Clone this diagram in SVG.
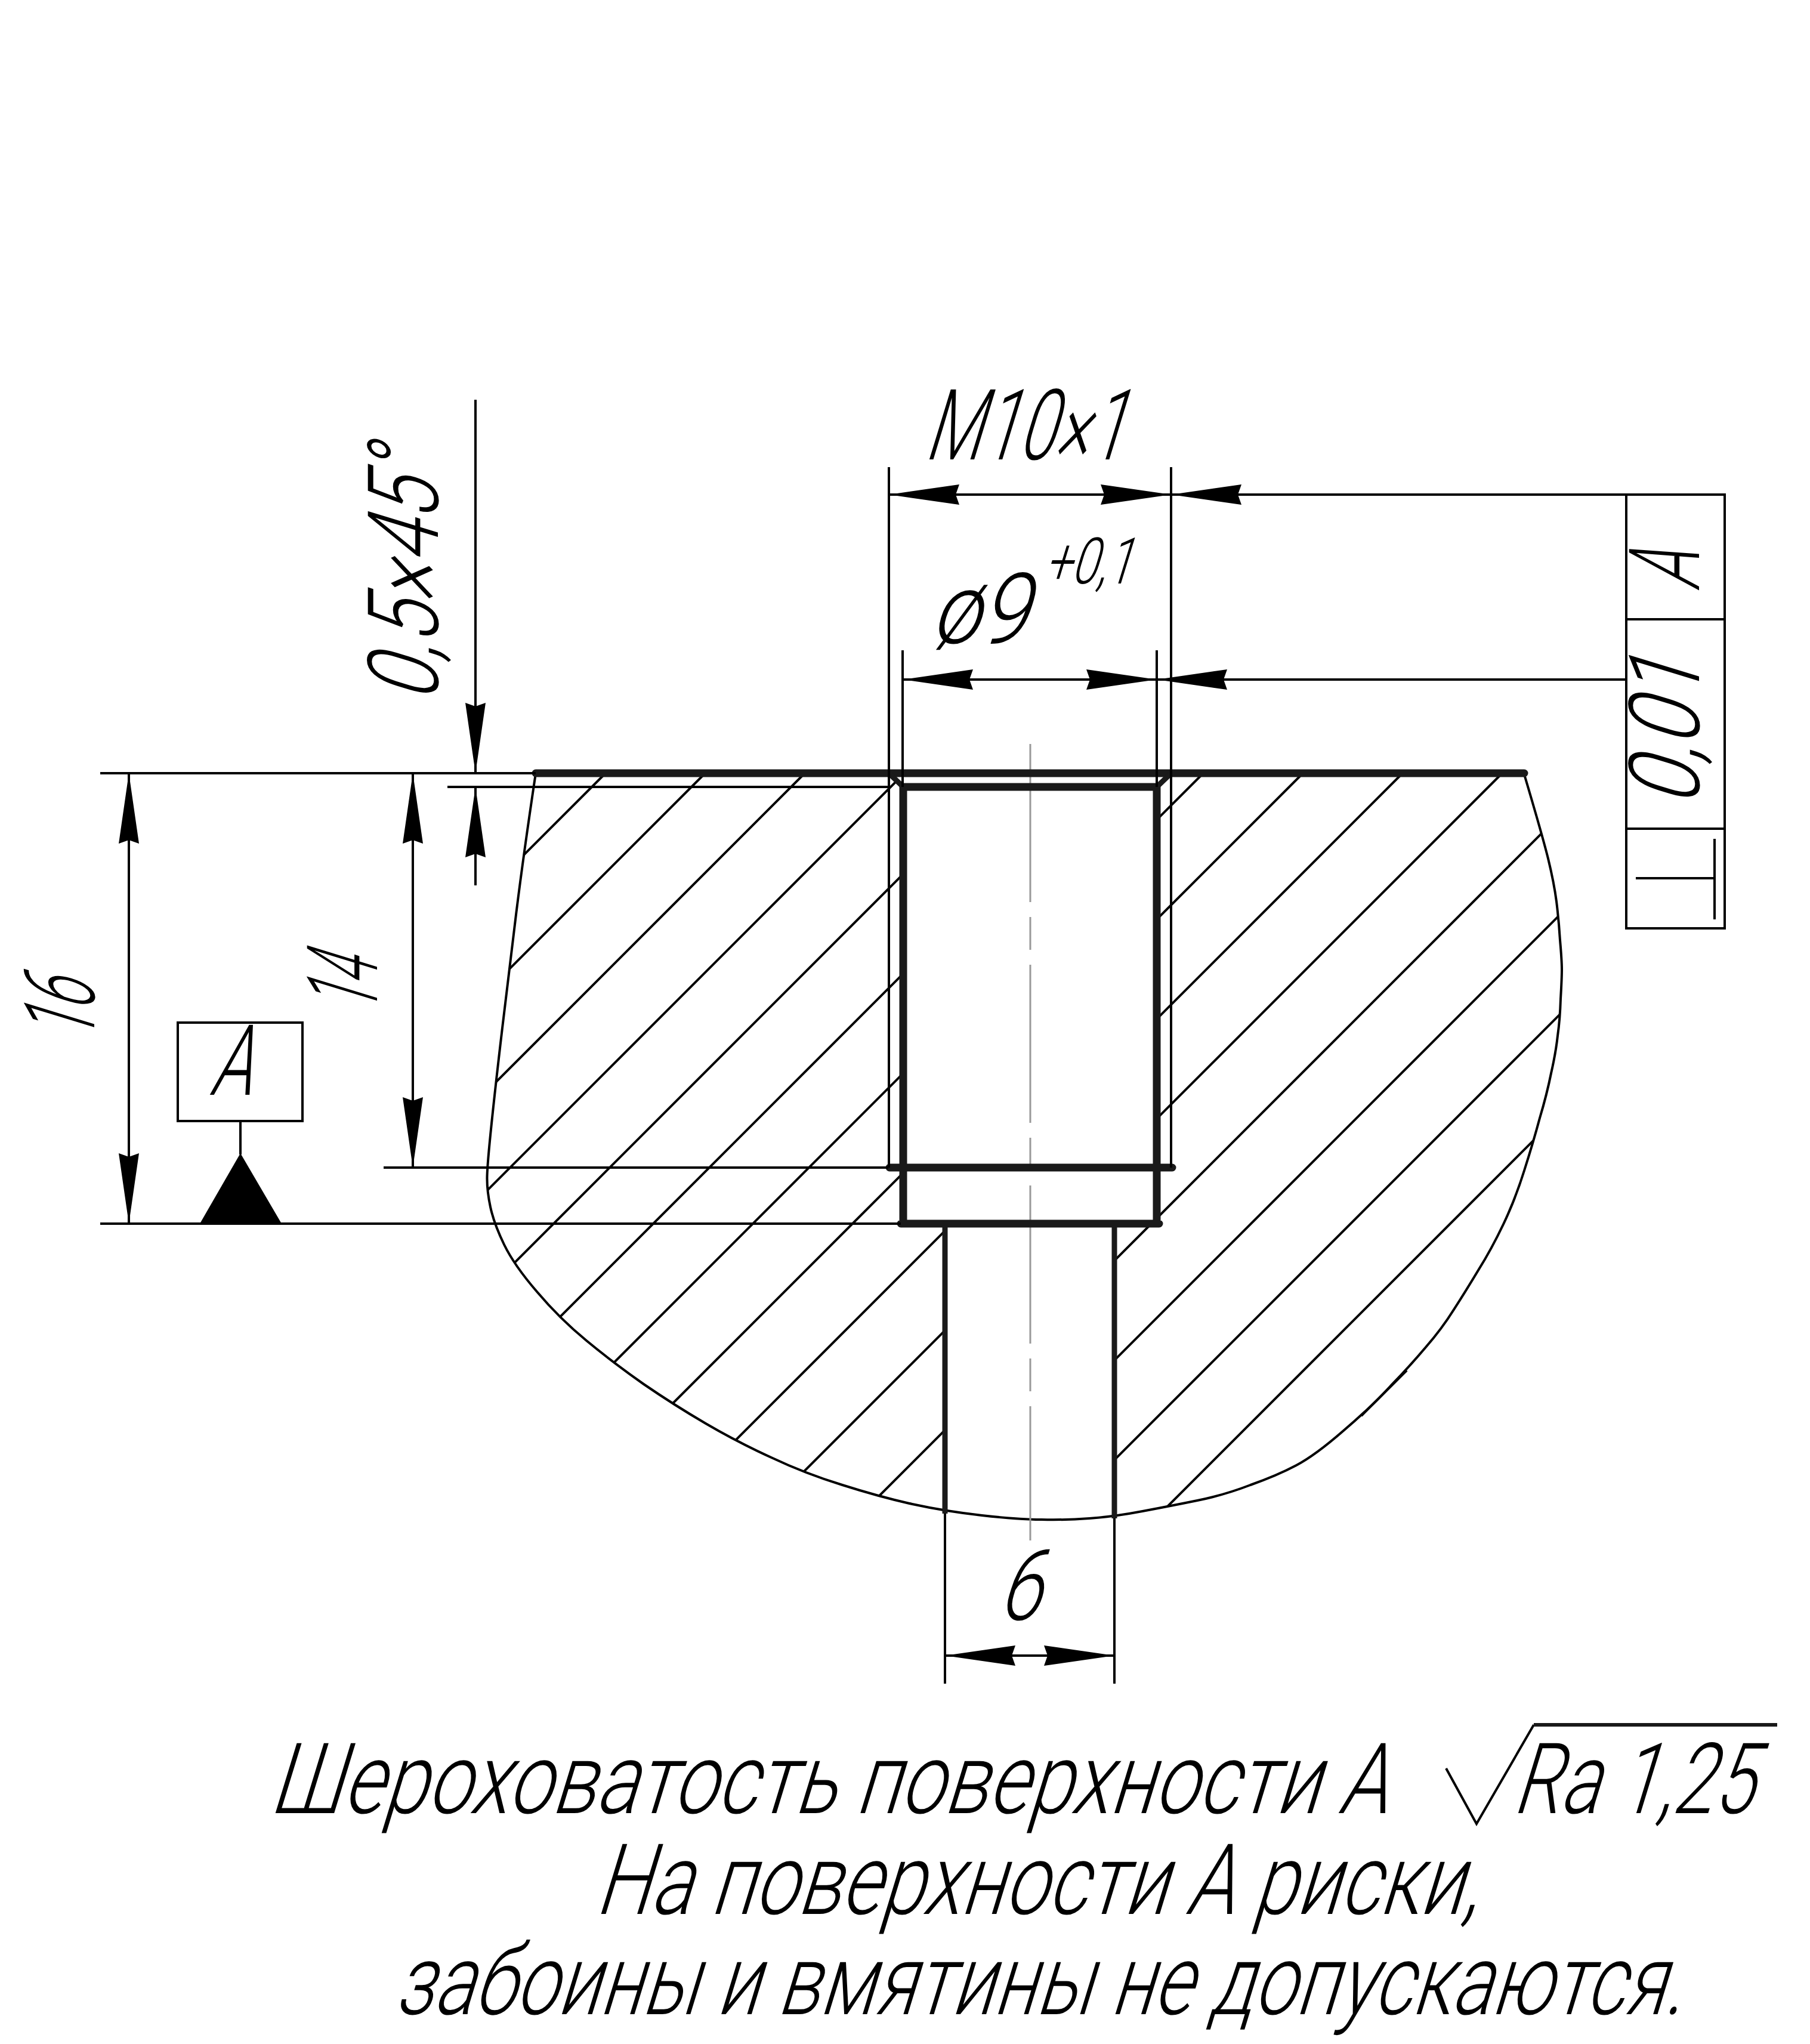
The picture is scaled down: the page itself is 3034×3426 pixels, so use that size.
<svg xmlns="http://www.w3.org/2000/svg" width="3034" height="3426" viewBox="0 0 3034 3426">
<style>
.thin{fill:none;stroke:#000;stroke-width:4}
.thick{fill:none;stroke:#1a1a1a;stroke-width:13;stroke-linecap:round}
.med{fill:none;stroke:#1a1a1a;stroke-width:9}
.t{font-family:"Roboto","Liberation Sans",sans-serif;font-weight:300;font-size:165px;fill:#000}
.dim{marker-end:url(#ah)}
.both{marker-start:url(#ah);marker-end:url(#ah)}
</style>
<defs>
<marker id="ah" markerUnits="userSpaceOnUse" markerWidth="124" markerHeight="40" refX="120" refY="20" orient="auto-start-reverse">
<path d="M120 20L2 3L8 20L2 37Z" fill="#000"/>
</marker>
<clipPath id="mat">
<path d="M898 1296H1490L1514 1319V2051H1584V2533L1529 2521Q1475 2509 1412 2489Q1350 2470 1293 2443Q1236 2417 1183 2386Q1130 2355 1079 2320Q1029 2285 983 2247Q938 2210 900 2165Q862 2121 845 2086Q828 2051 822 2023Q816 1995 816.5 1972Q817 1950 824 1883Q831 1816 842 1723Q853 1630 865 1533Q877 1436 898 1296Z"/>
<path d="M1963 1296H2555Q2585 1399 2595 1439Q2605 1480 2609 1511Q2613 1543 2615 1576Q2618 1610 2618 1625Q2618 1640 2616 1674Q2615 1708 2611 1736Q2608 1764 2600 1799Q2593 1834 2581 1874Q2570 1915 2555 1962Q2540 2010 2520 2052Q2500 2094 2478 2129Q2457 2164 2437 2195Q2417 2227 2390 2258Q2363 2290 2331 2323Q2300 2357 2252 2398Q2205 2439 2173 2456Q2141 2473 2096 2489Q2052 2506 2007 2515Q1963 2524 1915 2533L1868 2542V2051H1939V1319Z"/>
</clipPath>
</defs>
<g id="part">
<path id="hatch" class="thin" clip-path="url(#mat)" d="M1015 1296L-289 2600M1182 1296L-122 2600M1349 1296L45 2600M1516 1296L212 2600M1683 1296L379 2600M1850 1296L546 2600M2017 1296L713 2600M2184 1296L880 2600M2351 1296L1047 2600M2518 1296L1214 2600M2685 1296L1381 2600M2852 1296L1548 2600M3019 1296L1715 2600M3186 1296L1882 2600"/>
<path id="outline" class="thin" d="M898 1296Q877 1436 865 1533Q853 1630 842 1723Q831 1816 824 1883Q817 1950 816.5 1972Q816 1995 822 2023Q828 2051 845 2086Q862 2121 900 2165Q938 2210 983 2247Q1029 2285 1079 2320Q1130 2355 1183 2386Q1236 2417 1293 2443Q1350 2470 1412 2489Q1475 2509 1529 2521Q1584 2533 1646 2540Q1708 2547 1746 2547Q1784 2548 1826 2545Q1868 2542 1915 2533Q1963 2524 2007 2515Q2052 2506 2096 2489Q2141 2473 2173 2456Q2205 2439 2252 2398Q2300 2357 2331 2323Q2363 2290 2390 2258Q2417 2227 2437 2195Q2457 2164 2478 2129Q2500 2094 2520 2052Q2540 2010 2555 1962Q2570 1915 2581 1874Q2593 1834 2600 1799Q2608 1764 2611 1736Q2615 1708 2616 1674Q2618 1640 2618 1625Q2618 1610 2615 1576Q2613 1543 2609 1511Q2605 1480 2595 1439Q2585 1399 2555 1298"/>
<path class="thin" d="M2282 2373L2358 2297"/>
</g>
<g id="centerline"><path d="M1727 1247V2582" fill="none" stroke="#999" stroke-width="3" stroke-dasharray="265 25 55 25"/></g>
<g id="hole">
<path class="thick" d="M898 1296H2555"/>
<path class="thick" d="M1514 1319H1939M1514 1319V2051M1939 1319V2051M1510 2051H1943M1491 1957H1965"/>
<path class="med" d="M1490 1296L1514 1319M1963 1296L1939 1319M1584 2051V2537M1868 2051V2545"/>
</g>
<g id="connectors" class="thin">
<path class="thin" d="M1490 783V1957M1963 783V1957M1513 1090V1319M1939 1090V1319M1584 2537V2822M1868 2545V2822"/>
<path class="thin" d="M168 1296H898M168 2051H1510M643 1957H1489M750 1319H1494"/>
<path class="thin both" d="M1490 829H1963"/>
<path class="thin dim" d="M2726 829H1963"/>
<path class="thin both" d="M1513 1139H1939"/>
<path class="thin dim" d="M2726 1139H1939"/>
<path class="thin both" d="M216 1296V2051"/>
<path class="thin both" d="M692 1296V1957"/>
<path class="thin dim" d="M797 670V1296"/>
<path class="thin dim" d="M797 1484V1319"/>
<path class="thin both" d="M1584 2775H1868"/>
</g>
<g id="frame">
<rect class="thin" x="2726" y="829" width="165" height="727"/>
<path class="thin" d="M2726 1038H2891M2726 1389H2891M2742 1472H2874M2874 1406V1541"/>
<text class="t" transform="translate(2848 991) rotate(-90) skewX(-17)" textLength="64" lengthAdjust="spacingAndGlyphs">A</text>
<text class="t" transform="translate(2848 1353) rotate(-90) skewX(-17)" textLength="248" lengthAdjust="spacingAndGlyphs">0,01</text>
</g>
<g id="datum">
<rect class="thin" x="298" y="1714" width="209" height="165"/>
<path class="thin" d="M403 1879V1935"/>
<path d="M403 1933L472 2051H335Z" fill="#000"/>
<text class="t" transform="translate(350 1835) skewX(-17)" textLength="70" lengthAdjust="spacingAndGlyphs">A</text>
</g>
<g id="labels">
<text class="t" transform="translate(1548 770) skewX(-17)" textLength="335" lengthAdjust="spacingAndGlyphs">M10×1</text>
<text class="t" transform="translate(1558 1078) skewX(-17)" textLength="162" lengthAdjust="spacingAndGlyphs">ø9</text>
<text class="t" style="font-size:108px" transform="translate(1749 978) skewX(-17)" textLength="147" lengthAdjust="spacingAndGlyphs">+0,1</text>
<text class="t" transform="translate(734 1178) rotate(-90) skewX(-17)" textLength="420" lengthAdjust="spacingAndGlyphs">0,5×45°</text>
<text class="t" transform="translate(158 1747) rotate(-90) skewX(-17)" textLength="100" lengthAdjust="spacingAndGlyphs">16</text>
<text class="t" transform="translate(632 1700) rotate(-90) skewX(-17)" textLength="90" lengthAdjust="spacingAndGlyphs">14</text>
<text class="t" transform="translate(1671 2715) skewX(-17)" textLength="71" lengthAdjust="spacingAndGlyphs">6</text>
</g>
<g id="notes">
<text class="t" transform="translate(450 3039) skewX(-17)" textLength="1874" lengthAdjust="spacingAndGlyphs">Шероховатость поверхности А</text>
<path class="thin" d="M2424 2964L2475 3057L2571 2891"/>
<path class="thick" style="stroke-width:6;stroke-linecap:butt" d="M2571 2891H2979"/>
<text class="t" transform="translate(2534 3039) skewX(-17)" textLength="403" lengthAdjust="spacingAndGlyphs">Ra 1,25</text>
<text class="t" transform="translate(996 3208) skewX(-17)" textLength="1479" lengthAdjust="spacingAndGlyphs">На поверхности А риски,</text>
<text class="t" transform="translate(660 3376) skewX(-17)" textLength="2159" lengthAdjust="spacingAndGlyphs">забоины и вмятины не допускаются.</text>
</g>
</svg>
